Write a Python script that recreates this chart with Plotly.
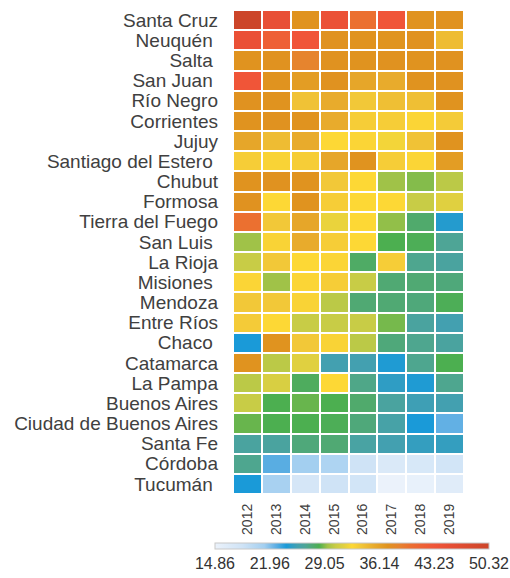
import plotly.graph_objects as go

# Provinces, top to bottom as drawn
provinces = [
    "Santa Cruz", "Neuquén", "Salta", "San Juan", "Río Negro", "Corrientes",
    "Jujuy", "Santiago del Estero", "Chubut", "Formosa", "Tierra del Fuego",
    "San Luis", "La Rioja", "Misiones", "Mendoza", "Entre Ríos", "Chaco",
    "Catamarca", "La Pampa", "Buenos Aires", "Ciudad de Buenos Aires",
    "Santa Fe", "Córdoba", "Tucumán",
]
# Labels that carry a trailing space in the axis text
padded = {"Neuquén", "Salta", "San Juan", "Santiago del Estero", "San Luis",
          "Misiones", "Chaco", "Tucumán"}

years = ["2012", "2013", "2014", "2015", "2016", "2017", "2018", "2019"]

# One row of values per province, 2012..2019
santa_cruz   = [50.32, 45.00, 37.20, 44.29, 40.04, 43.23, 37.20, 37.30]
neuquen      = [44.65, 41.81, 43.23, 37.30, 37.20, 37.15, 37.25, 34.36]
salta        = [37.20, 37.25, 38.62, 37.30, 37.20, 37.25, 37.20, 37.25]
san_juan     = [43.23, 37.20, 36.49, 37.25, 35.78, 35.43, 37.20, 37.25]
rio_negro    = [37.25, 37.20, 34.01, 35.43, 33.65, 34.19, 34.19, 37.20]
corrientes   = [37.20, 37.25, 37.20, 35.43, 33.30, 33.30, 32.77, 33.48]
jujuy        = [35.78, 34.36, 35.43, 32.59, 32.77, 32.24, 34.01, 37.20]
santiago     = [33.30, 32.94, 33.30, 35.78, 37.20, 33.30, 32.77, 36.49]
chubut       = [37.20, 37.25, 37.20, 33.65, 32.59, 29.40, 29.04, 30.11]
formosa      = [37.25, 32.59, 37.20, 33.30, 32.59, 32.59, 30.46, 31.53]
tierra_fuego = [40.04, 33.65, 35.78, 31.88, 32.59, 29.22, 27.63, 24.43]
san_luis     = [29.40, 32.94, 35.43, 33.30, 32.59, 28.33, 28.16, 26.56]
la_rioja     = [30.46, 33.65, 32.59, 32.77, 27.80, 33.30, 26.74, 26.21]
misiones     = [32.77, 29.40, 32.77, 33.30, 30.46, 27.45, 27.45, 27.27]
mendoza      = [33.65, 33.65, 32.94, 30.11, 27.45, 27.45, 27.27, 28.16]
entre_rios   = [33.48, 32.59, 30.46, 30.46, 30.46, 28.87, 26.21, 25.50]
chaco        = [24.08, 37.20, 33.65, 32.94, 30.11, 27.27, 26.74, 26.21]
catamarca    = [37.20, 30.11, 31.53, 25.50, 25.50, 24.26, 26.74, 28.33]
la_pampa     = [30.11, 31.17, 27.98, 32.59, 26.92, 24.79, 24.26, 26.74]
buenos_aires = [30.46, 28.33, 28.69, 28.33, 27.63, 26.21, 25.32, 25.50]
caba         = [28.69, 28.33, 28.33, 28.16, 27.27, 25.85, 24.08, 22.66]
santa_fe     = [26.21, 26.21, 27.27, 27.45, 26.03, 25.50, 24.97, 24.97]
cordoba      = [26.74, 22.84, 21.24, 20.53, 18.41, 16.99, 17.34, 18.05]
tucuman      = [24.08, 20.89, 17.70, 18.41, 18.05, 14.86, 15.21, 16.28]

z = [santa_cruz, neuquen, salta, san_juan, rio_negro, corrientes, jujuy,
     santiago, chubut, formosa, tierra_fuego, san_luis, la_rioja, misiones,
     mendoza, entre_rios, chaco, catamarca, la_pampa, buenos_aires, caba,
     santa_fe, cordoba, tucuman]

scale_ticks = [14.86, 21.96, 29.05, 36.14, 43.23, 50.32]

colorscale = [
    [0.00, "#ebf2fb"], [0.10, "#cfe3f6"], [0.18, "#a3cff0"],
    [0.22, "#62b0e4"], [0.26, "#1a9ad8"], [0.30, "#43a0b0"],
    [0.33, "#4ea596"], [0.36, "#50aa6c"], [0.38, "#4caf50"],
    [0.41, "#a0c248"], [0.44, "#c8cc46"], [0.47, "#e0d040"],
    [0.50, "#fdd835"], [0.53, "#f2c838"], [0.58, "#e8ab2c"],
    [0.63, "#e0931f"], [0.67, "#e6842e"], [0.71, "#eb7030"],
    [0.76, "#ee6035"], [0.80, "#f05538"], [0.85, "#e84f35"],
    [1.00, "#cc4529"],
]

fig = go.Figure(go.Heatmap(
    z=z, x=years, y=provinces,
    zmin=min(scale_ticks), zmax=max(scale_ticks),
    colorscale=colorscale,
    xgap=2, ygap=2,
    colorbar=dict(
        orientation="h",
        thickness=6, thicknessmode="pixels",
        len=274, lenmode="pixels",
        x=-0.078, xanchor="left",
        y=-0.101, yanchor="top",
        xpad=0, ypad=0,
        outlinewidth=1, outlinecolor="#c8c8c8",
        tickvals=scale_ticks,
        ticktext=[f"{v:.2f}" for v in scale_ticks],
        ticks="",
        tickfont=dict(family="Liberation Sans, Arial", size=16, color="#333333"),
    ),
))

fig.update_layout(
    width=510, height=578,
    margin=dict(l=233, r=46, t=10, b=84),
    paper_bgcolor="white",
    plot_bgcolor="white",
    font=dict(family="Liberation Sans, Arial", color="#404040"),
)
fig.update_xaxes(
    type="category", tickangle=-90, showgrid=False, zeroline=False,
    tickfont=dict(size=14, color="#404040"), ticks="", ticklabelstandoff=6,
)
fig.update_yaxes(
    type="category", autorange="reversed", showgrid=False, zeroline=False,
    tickvals=provinces,
    ticktext=[p + "\u00a0" if p in padded else p for p in provinces],
    tickfont=dict(size=19, color="#404040"), ticks="", ticklabelstandoff=14,
)

fig.write_html("out.html")
